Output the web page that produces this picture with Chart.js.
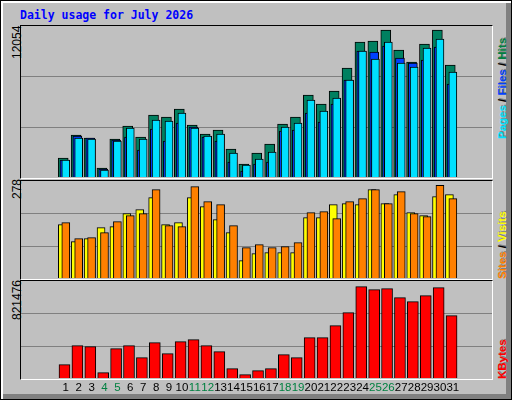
<!DOCTYPE html>
<html><head><meta charset="utf-8">
<script src="https://cdn.jsdelivr.net/npm/chart.js@4/dist/chart.umd.min.js"></script>
<style>
html,body{margin:0;padding:0;background:#fff}
#root{position:relative;width:510px;height:398px;border:1px solid #000;background:#c0c0c0;overflow:hidden;font-family:"Liberation Sans",sans-serif}
.bev{position:absolute}
.panel{position:absolute;border-top:1px solid #000;border-left:1px solid #000;border-right:1px solid #fff;border-bottom:1px solid #fff;box-sizing:border-box}
canvas{position:absolute}
.vt{position:absolute;transform-origin:0 0;transform:rotate(-90deg);white-space:nowrap;font-size:12px;line-height:12px}
.lg{font-weight:bold;font-size:11.5px;text-shadow:1px 1px 0 #808080}
#title{position:absolute;left:19px;top:7px;font:bold 11.5px "DejaVu Sans Mono",monospace;color:#0000ff}
</style></head><body>
<div id="root">
  <div class="bev" style="left:0;top:0;width:510px;height:2px;background:#fff"></div>
  <div class="bev" style="left:0;top:0;width:2px;height:398px;background:#fff"></div>
  <div class="bev" style="left:505px;top:2px;width:5px;height:396px;background:#808080"></div>
  <div class="bev" style="left:2px;top:393px;width:508px;height:5px;background:#808080"></div>
  <div id="title">Daily usage for July 2026</div>
  <div class="panel" style="left:19px;top:24px;width:473px;height:154px"></div>
  <div class="panel" style="left:19px;top:179px;width:473px;height:100px"></div>
  <div class="panel" style="left:19px;top:279px;width:473px;height:100px"></div>
  <div class="vt" style="left:10px;top:58px">12054</div>
  <div class="vt" style="left:10px;top:198px">278</div>
  <div class="vt" style="left:10px;top:319px">821476</div>
  <div class="vt lg" style="left:495px;top:138px"><span style="color:#00e0ff">Pages</span> / <span style="color:#0040ff">Files</span> / <span style="color:#008040">Hits</span></div>
  <div class="vt lg" style="left:495px;top:278px"><span style="color:#ff8000">Sites</span> / <span style="color:#ffff00">Visits</span></div>
  <div class="vt lg" style="left:495px;top:378px"><span style="color:#ff0000">KBytes</span></div>
  <canvas id="c1" width="471" height="151" style="left:20px;top:25px"></canvas>
  <canvas id="c2" width="471" height="97" style="left:20px;top:180px"></canvas>
  <canvas id="c3" width="471" height="120" style="left:20px;top:280px"></canvas>
</div>
<script>
const days = [1,2,3,4,5,6,7,8,9,10,11,12,13,14,15,16,17,18,19,20,21,22,23,24,25,26,27,28,29,30,31];
const weekendDays = [4,5,11,12,18,19,25,26];
const hits = [1558,3444,3198,738,3116,4182,3280,5084,4920,5576,4264,3526,3854,2296,1066,1968,2706,4346,4920,6724,5986,7052,8938,11070,11152,12054,10414,9430,10906,12054,9184];
const files = [1394,3362,3198,656,3034,3280,2214,3936,2952,4428,4100,3280,2952,1230,492,1066,1230,3772,3854,5248,4510,5986,7954,10332,10250,10742,9758,9348,9594,10660,7626];
const pages = [1394,3198,3116,574,2952,4018,3116,4674,4592,5248,4018,3362,3526,1968,984,1476,2050,4100,4428,6314,5412,6478,7954,10332,9676,11070,9348,9020,10578,11316,8610];
const sites = [160,109,118,151,154,193,205,241,160,166,241,214,175,136,52,73,76,76,76,181,181,220,223,220,265,223,250,196,187,244,250];
const visits = [166,118,121,136,169,187,193,265,157,154,274,229,220,157,91,100,91,94,106,196,199,178,229,238,265,223,259,193,184,278,238];
const kbytes = [119920,290806,281812,47968,263824,290806,182878,317788,218854,326782,344770,290806,236842,83944,29980,65956,83944,209860,182878,362758,362758,470686,587608,821476,794470,803464,722518,686542,740506,812458,560626];

const PX = 1/15.02;
function pts(arr, offPx){ return arr.map((v,i)=>({x:days[i]+offPx*PX, y:v})); }
function ds(arr, offPx, w, color){
  return {data:pts(arr,offPx), backgroundColor:color, borderColor:'#000', borderWidth:1, barThickness:w, grouped:false, borderSkipped:'bottom'};
}
const gridPlugin = {
  id:'thirds',
  beforeDatasetsDraw(chart){
    const {ctx, chartArea:a, scales:{x,y}} = chart;
    const max = y.max;
    ctx.save();
    ctx.strokeStyle='#808080'; ctx.lineWidth=1;
    [1,2].forEach(k=>{
      const py = Math.round(y.getPixelForValue(max*k/3))+0.5;
      ctx.beginPath(); ctx.moveTo(a.left,py); ctx.lineTo(a.right,py); ctx.stroke();
    });
    ctx.restore();
  },
  afterDraw(chart, args, o){
    if(!o.labels) return;
    const {ctx, chartArea:a, scales:{x}} = chart;
    ctx.save();
    ctx.font = '11.5px "Liberation Sans"';
    ctx.textAlign='center'; ctx.textBaseline='middle';
    days.forEach(d=>{
      ctx.fillStyle = weekendDays.includes(d)?'#008040':'#000';
      ctx.fillText(String(d), x.getPixelForValue(d+2*PX), a.bottom+10);
    });
    ctx.restore();
  }
};
function opts(max, labels){
  return {
    responsive:false, animation:false, devicePixelRatio:1,
    layout:{padding:{left:0,right:0,top:0,bottom:labels?23:0}},
    plugins:{legend:{display:false}, tooltip:{enabled:false}, thirds:{labels:labels}},
    scales:{
      x:{type:'linear', min:0.27, max:31.56, display:false},
      y:{min:0, max:max, display:false}
    }
  };
}
new Chart(document.getElementById('c1'), {type:'bar', plugins:[gridPlugin], data:{datasets:[
  ds(pages, 2, 8, '#00e0ff'), ds(files, 0.5, 9, '#0040ff'), ds(hits, -1, 10, '#008060')]}, options:opts(12382,false)});
new Chart(document.getElementById('c2'), {type:'bar', plugins:[gridPlugin], data:{datasets:[
  ds(visits, 2, 8, '#ff8000'), ds(sites, -2, 8, '#ffff00')]}, options:opts(291,false)});
new Chart(document.getElementById('c3'), {type:'bar', plugins:[gridPlugin], data:{datasets:[
  ds(kbytes, 0.5, 11, '#ff0000')]}, options:opts(872400,true)});
</script>
</body></html>
